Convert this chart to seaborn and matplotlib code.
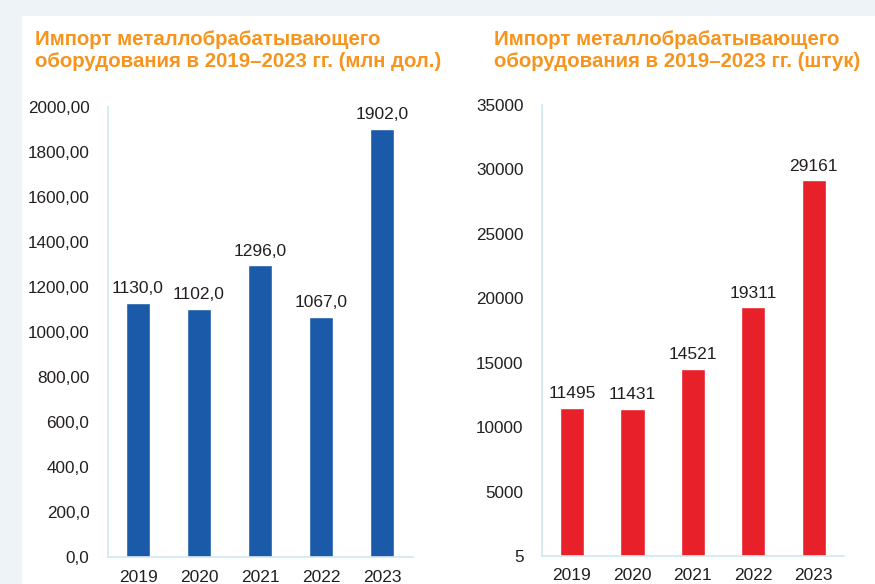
import matplotlib
matplotlib.use("Agg")
import matplotlib.pyplot as plt
import seaborn as sns
import pandas as pd
from matplotlib.patches import Rectangle

years = ["2019", "2020", "2021", "2022", "2023"]
usd_values = [1130.0, 1102.0, 1296.0, 1067.0, 1902.0]
unit_values = [11495, 11431, 14521, 19311, 29161]
left_ticks = [0, 200, 400, 600, 800, 1000, 1200, 1400, 1600, 1800, 2000]
left_tick_labels = ["0,0", "200,0", "400,0", "600,0", "800,00", "1000,00",
                    "1200,00", "1400,00", "1600,00", "1800,00", "2000,00"]
right_ticks = [0, 5000, 10000, 15000, 20000, 25000, 30000, 35000]
right_tick_labels = ["5", "5000", "10000", "15000", "20000", "25000", "30000", "35000"]
title_left = "Импорт металлобрабатывающего\nоборудования в 2019–2023 гг. (млн дол.)"
title_right = "Импорт металлобрабатывающего\nоборудования в 2019–2023 гг. (штук)"

sns.set_theme(style="white")
plt.rcParams["font.family"] = ["Liberation Sans", "DejaVu Sans"]

W, H = 875, 584
fig = plt.figure(figsize=(W / 100, H / 100), dpi=100)
fig.patch.set_facecolor("#eef3f8")
fig.add_artist(Rectangle((22 / W, 0), 1, 1 - 16 / H, transform=fig.transFigure,
                         facecolor="white", edgecolor="none", zorder=0))

def fx(px):
    return px / W

def fy(py):
    return 1 - py / H

TXT = "#231f20"
AXC = "#cfe8f2"
ORANGE = "#f7941d"

df_l = pd.DataFrame({"year": years, "value": usd_values})
df_r = pd.DataFrame({"year": years, "value": unit_values})

# left axes
ax1 = fig.add_axes([fx(107.5), fy(557), fx(412.5) - fx(107.5), fy(107) - fy(557)])
sns.barplot(data=df_l, x="year", y="value", color="#1b5aa8", width=0.40,
            saturation=1, ax=ax1)
ax1.set_ylim(0, 2000)
ax1.set_xlim(-0.5, 4.5)
ax1.set_yticks(left_ticks)
ax1.set_yticklabels(left_tick_labels)
for i, v in enumerate(usd_values):
    ax1.text(i, v + 30, f"{v:.1f}".replace(".", ","), ha="center", va="bottom",
             fontsize=12.5, color=TXT)

# right axes
ax2 = fig.add_axes([fx(541.75), fy(556), fx(844) - fx(541.75), fy(105) - fy(556)])
sns.barplot(data=df_r, x="year", y="value", color="#e8202a", width=0.40,
            saturation=1, ax=ax2)
ax2.set_ylim(0, 35000)
ax2.set_xlim(-0.5, 4.5)
ax2.set_yticks(right_ticks)
ax2.set_yticklabels(right_tick_labels)
for i, v in enumerate(unit_values):
    ax2.text(i, v + 500, f"{v}", ha="center", va="bottom", fontsize=12.5, color=TXT)

for ax in (ax1, ax2):
    ax.set_xlabel("")
    ax.set_ylabel("")
    ax.set_facecolor("none")
    for s in ("top", "right"):
        ax.spines[s].set_visible(False)
    for s in ("left", "bottom"):
        ax.spines[s].set_color(AXC)
        ax.spines[s].set_linewidth(1.2)
    ax.tick_params(axis="y", length=0, pad=13, labelsize=12.3, labelcolor=TXT)
    ax.tick_params(axis="x", length=0, pad=9, labelsize=12.5, labelcolor=TXT)

fig.text(fx(35), fy(30), title_left, ha="left", va="top", fontsize=14.7,
         fontweight="bold", color=ORANGE, linespacing=1.18)
fig.text(fx(494), fy(30), title_right, ha="left", va="top", fontsize=14.7,
         fontweight="bold", color=ORANGE, linespacing=1.18)

fig.savefig("out.png", dpi=100, facecolor=fig.get_facecolor())
